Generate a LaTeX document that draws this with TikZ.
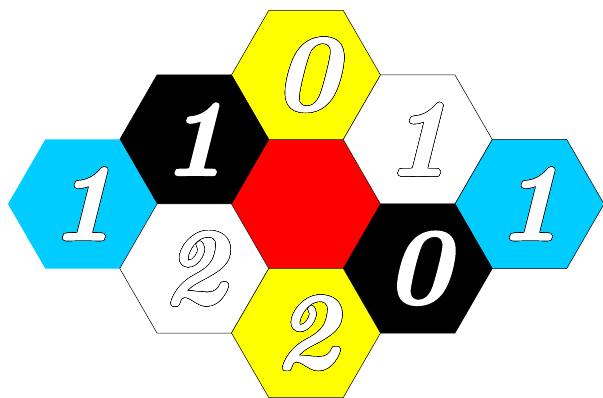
\documentclass[tikz,border=0pt]{standalone}
\usepackage{fontspec}
\usepackage{xcolor}
\usepackage{contour}
\usepackage{tikz}
\newfontface\digitface[Extension=.otf,FakeBold=2.2]{lmroman10-bolditalic}
\contourlength{0.45pt}
\contournumber{24}
\definecolor{hexcyan}{RGB}{0,204,255}
\definecolor{hexyellow}{RGB}{255,255,0}
\definecolor{hexred}{RGB}{255,0,0}
\def\hexR{74.5}
\tikzset{
  hexcell/.style={line width=0.5pt,draw=black},
  hexbare/.style={draw=none},
  digit/.style={text=white,inner sep=0pt,font=\digitface\fontsize{108}{108}\selectfont}
}

\begin{document}
\begin{tikzpicture}[x=1pt,y=1pt]
  \useasboundingbox (-306,-194) rectangle (297,204);
  % centre cell
  \fill[hexred] (0:\hexR) \foreach \a in {60,120,...,300} { -- (\a:\hexR) } -- cycle;
  % ring of cells: x/y/colour/digit/line
  \foreach \cx/\cy/\col/\num/\edge [count=\i] in {
      0/129/hexyellow/0/hexcell,
      -111.75/64.5/black/1/hexcell,
      111.75/64.5/white/1/hexcell,
      -223.5/0/hexcyan/1/hexbare,
      223.5/0/hexcyan/1/hexcell,
      -111.75/-64.5/white/2/hexcell,
      111.75/-64.5/black/0/hexcell,
      0/-129/hexyellow/2/hexcell} {
    \begin{scope}[shift={(\cx,\cy)}]
      \path[\edge,fill=\col] (0:\hexR) \foreach \a in {60,120,...,300} { -- (\a:\hexR) } -- cycle;
      \node[digit] (d\i) at (0,0) {\contour{black}{\num}};
    \end{scope}
  }
\end{tikzpicture}
\end{document}
